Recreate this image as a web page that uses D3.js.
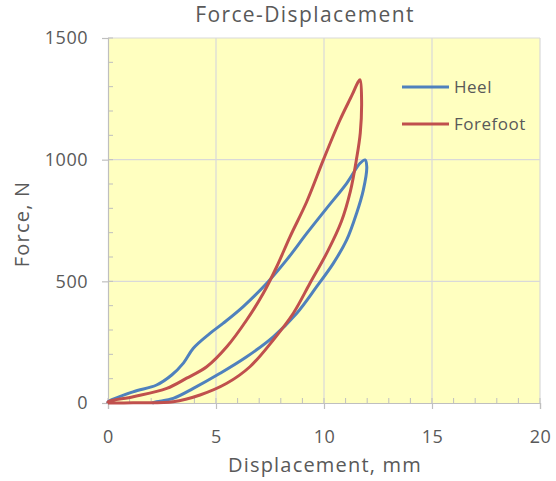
<!DOCTYPE html>
<meta charset='utf-8'>
<style type="text/css">
	body { margin: 0; background: #fff; }
	text { font-family: "Open Sans", "Noto Sans", sans-serif; fill: #595959; }
</style>
<body>
<div class="chart"></div>
<script src='https://cdn.jsdelivr.net/npm/d3@7/dist/d3.min.js'></script>
<script>

// Heel: loading branch then unloading branch (displacement mm, force N)
var heelX = [0, 0.01, 1.16, 2.25, 2.95, 3.49, 3.95, 4.72, 5.34, 6.26, 7.35, 8.27, 9.2, 10.12, 11.05, 11.67, 11.9, 11.98,
             11.82, 11.51, 11.05, 10.43, 9.66, 8.74, 7.65, 6.42, 5.19, 3.95, 3.02, 2.25, 2.05];
var heelY = [0, 5, 46, 74, 115, 164, 225, 286, 328, 396, 492, 588, 697, 800, 903, 985, 999, 971,
             875, 780, 670, 574, 478, 369, 272, 190, 122, 60, 19, 5, 0];

// Forefoot
var foreX = [0, 0.01, 1.17, 2.72, 3.64, 4.57, 5.5, 6.42, 7.19, 7.81, 8.43, 9.2, 9.97, 10.74, 11.3, 11.59, 11.67,
             11.74, 11.68, 11.5, 11.22, 10.8, 10.15, 9.35, 8.58, 7.65, 6.57, 5.5, 4.26, 3.02, 1.16, 0];
var foreY = [0, 5, 26, 60, 102, 149, 231, 341, 451, 560, 684, 827, 999, 1163, 1266, 1321, 1328,
             1245, 1110, 1000, 870, 745, 620, 492, 369, 259, 149, 81, 33, 5, 1, 0];

var seriesNames = ['Heel', 'Forefoot'];
var seriesColors = ['#4f81bd', '#c0504d'];
var xTicks = [0, 5, 10, 15, 20];
var yTicks = [0, 500, 1000, 1500];

var width = 556, height = 481;
var margin = {left: 108, right: 16, top: 38, bottom: 78};

var svg = d3.select('.chart')
	.append('svg')
	.attr('width', width)
	.attr('height', height);

var x = d3.scaleLinear().domain([0, 20]).range([margin.left, width - margin.right]);
var y = d3.scaleLinear().domain([0, 1500]).range([height - margin.bottom, margin.top]);

// plot area
svg.append('rect')
	.attr('x', x(0)).attr('y', y(1500))
	.attr('width', x(20) - x(0)).attr('height', y(0) - y(1500))
	.attr('fill', '#ffffc0');

// grid
svg.selectAll('.vgrid').data(xTicks.slice(1)).enter().append('line')
	.attr('x1', d => x(d)).attr('x2', d => x(d))
	.attr('y1', y(0)).attr('y2', y(1500))
	.attr('stroke', '#d9d9d9').attr('stroke-width', 1.2);
svg.selectAll('.hgrid').data(yTicks.slice(1)).enter().append('line')
	.attr('x1', x(0)).attr('x2', x(20))
	.attr('y1', d => y(d)).attr('y2', d => y(d))
	.attr('stroke', '#d9d9d9').attr('stroke-width', 1.2);

// minor ticks (inside)
svg.selectAll('.xminor').data(d3.range(0, 21, 1)).enter().append('line')
	.attr('x1', d => x(d)).attr('x2', d => x(d))
	.attr('y1', y(0)).attr('y2', y(0) - 5)
	.attr('stroke', '#bfbfbf');
svg.selectAll('.yminor').data(d3.range(0, 1501, 100)).enter().append('line')
	.attr('x1', x(0)).attr('x2', x(0) + 5)
	.attr('y1', d => y(d)).attr('y2', d => y(d))
	.attr('stroke', '#bfbfbf');

// axes
var xAxis = svg.append('g')
	.attr('transform', 'translate(0,' + y(0) + ')')
	.call(d3.axisBottom(x).tickValues(xTicks).tickFormat(d3.format('d')).tickSize(6).tickPadding(21));
var yAxis = svg.append('g')
	.attr('transform', 'translate(' + x(0) + ',0)')
	.call(d3.axisLeft(y).tickValues(yTicks).tickFormat(d3.format('d')).tickSize(6).tickPadding(14));
[xAxis, yAxis].forEach(function(a){
	a.select('.domain').attr('stroke', '#bfbfbf').attr('stroke-width', 1.2);
	a.selectAll('.tick line').attr('stroke', '#bfbfbf').attr('stroke-width', 1.2);
	a.selectAll('.tick text').attr('font-size', 18).attr('fill', '#595959')
		.attr('letter-spacing', 0.5)
		.style('font-family', '"Open Sans", sans-serif');
});

// curves
var line = d3.line()
	.x(d => x(d[0]))
	.y(d => y(d[1]))
	.curve(d3.curveCatmullRom.alpha(0.5));

var series = [d3.zip(heelX, heelY), d3.zip(foreX, foreY)];
series.forEach(function(s, i){
	svg.append('path')
		.datum(s)
		.attr('d', line)
		.attr('fill', 'none')
		.attr('stroke', seriesColors[i])
		.attr('stroke-width', 3)
		.attr('stroke-linejoin', 'round');
});

// legend
var legend = svg.selectAll('.legend').data(seriesNames).enter().append('g')
	.attr('transform', (d, i) => 'translate(402,' + (87 + i * 37) + ')');
legend.append('line')
	.attr('x1', 0).attr('x2', 47)
	.attr('stroke', (d, i) => seriesColors[i]).attr('stroke-width', 3);
legend.append('text')
	.attr('x', 52).attr('dy', '0.35em')
	.attr('font-size', 17)
	.attr('letter-spacing', 0.5)
	.text(d => d);

// titles
svg.append('text')
	.attr('x', 305).attr('y', 22)
	.attr('text-anchor', 'middle')
	.attr('font-size', 21)
	.attr('letter-spacing', 1.4)
	.text('Force-Displacement');
svg.append('text')
	.attr('x', 325).attr('y', 472)
	.attr('text-anchor', 'middle')
	.attr('font-size', 20)
	.attr('letter-spacing', 1.2)
	.text('Displacement, mm');
svg.append('text')
	.attr('transform', 'translate(29,224) rotate(-90)')
	.attr('text-anchor', 'middle')
	.attr('font-size', 20)
	.attr('letter-spacing', 1.2)
	.text('Force, N');

</script>
</body>
</html>
